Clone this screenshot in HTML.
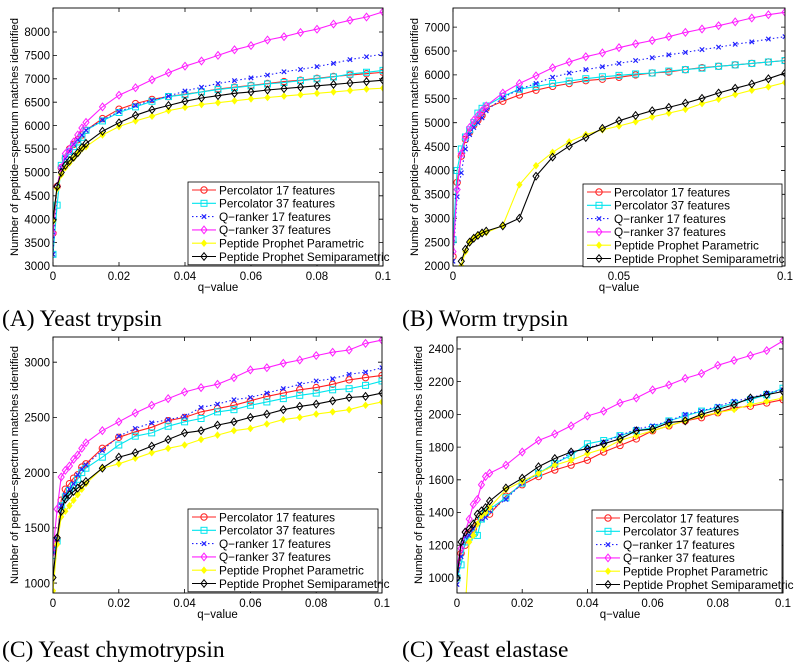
<!DOCTYPE html>
<html><head><meta charset="utf-8">
<style>
html,body{margin:0;padding:0;background:#fff;}
svg{display:block;font-family:"Liberation Sans",sans-serif;}
.cap{font-family:"Liberation Serif",serif;font-size:23.5px;fill:#000;}
</style></head>
<body>
<svg id="fig" width="800" height="663" viewBox="0 0 800 663" xmlns="http://www.w3.org/2000/svg"></svg>
<script>
const qs = [0,0.00125,0.0025,0.00375,0.005,0.00625,0.0075,0.00875,0.01,0.015,0.02,0.025,0.03,0.035,0.04,0.045,0.05,0.055,0.06,0.065,0.07,0.075,0.08,0.085,0.09,0.095,0.1];
const seriesNames = ["Percolator 17 features","Percolator 37 features","Q\u2212ranker 17 features","Q\u2212ranker 37 features","Peptide Prophet Parametric","Peptide Prophet Semiparametric"];

const aPerc17 = [3700,4700,5100,5300,5500,5600,5700,5800,5900,6150,6350,6470,6560,6620,6670,6720,6780,6820,6860,6900,6940,6970,7010,7050,7080,7110,7140];
const aPerc37 = [3250,4300,5150,5300,5450,5550,5650,5750,5900,6100,6280,6400,6520,6620,6660,6720,6770,6810,6850,6890,6920,6960,7000,7040,7100,7140,7180];
const aQ17 = [3250,4700,5100,5300,5450,5600,5700,5800,5900,6120,6300,6430,6540,6630,6740,6820,6900,6960,7020,7080,7150,7200,7260,7330,7410,7470,7530];
const aQ37 = [3700,4700,5100,5400,5500,5650,5800,5950,6070,6400,6650,6810,6980,7130,7270,7380,7500,7620,7710,7830,7900,7990,8060,8170,8250,8320,8430];
const aPPp = [3950,4650,4950,5100,5200,5300,5400,5500,5550,5800,5980,6100,6200,6320,6390,6450,6490,6530,6570,6600,6630,6660,6690,6720,6750,6780,6800];
const aPPs = [3980,4700,5000,5150,5250,5330,5420,5530,5620,5880,6060,6220,6340,6430,6520,6590,6640,6690,6720,6760,6790,6820,6850,6880,6910,6940,6970];

const bPerc17 = [2200,3750,4300,4650,4800,4950,5050,5150,5300,5450,5580,5680,5760,5820,5880,5910,5950,6000,6040,6060,6110,6150,6180,6210,6240,6270,6300];
const bPerc37 = [2550,4000,4450,4700,4850,5000,5200,5300,5350,5550,5700,5760,5820,5870,5920,5960,5990,6020,6040,6080,6110,6140,6180,6210,6240,6270,6300];
const bQ17 = [2100,3450,3950,4450,4750,4900,5000,5100,5250,5520,5700,5820,5950,6040,6110,6170,6240,6300,6360,6420,6470,6530,6580,6640,6690,6750,6800];
const bQ37 = [2300,3600,4350,4700,4900,5050,5150,5250,5350,5620,5820,5980,6150,6270,6380,6460,6570,6650,6720,6800,6890,6960,7030,7110,7190,7260,7310];
const bPPp = [null,null,2000,2300,2500,2580,2650,2680,2700,2850,3700,4100,4380,4600,4750,4850,4930,5020,5120,5200,5280,5400,5490,5590,5680,5750,5840];
const bPPs = [null,null,2100,2350,2500,2580,2640,2690,2730,2840,3000,3880,4280,4510,4690,4880,5040,5150,5250,5320,5410,5510,5620,5720,5810,5920,6040];

const cPerc17 = [1300,1400,1750,1850,1900,1950,1980,2050,2080,2220,2320,2370,2410,2470,2500,2550,2580,2610,2650,2690,2720,2750,2770,2800,2840,2860,2880];
const cPerc37 = [1250,1380,1700,1780,1840,1880,1940,2000,2040,2140,2250,2330,2360,2420,2460,2490,2550,2570,2610,2640,2670,2700,2720,2750,2760,2790,2830];
const cQ17 = [1280,1400,1700,1800,1850,1900,1980,2030,2070,2200,2330,2400,2450,2480,2510,2590,2620,2660,2680,2720,2760,2800,2830,2850,2890,2910,2950];
const cQ37 = [1280,1670,1960,2020,2060,2120,2160,2220,2270,2380,2460,2540,2610,2670,2730,2770,2800,2860,2930,2950,2990,3020,3060,3090,3110,3170,3200];
const cPPp = [930,1350,1600,1650,1700,1750,1800,1850,1900,2040,2080,2130,2180,2220,2250,2300,2340,2380,2400,2440,2480,2500,2530,2550,2570,2610,2640];
const cPPs = [1050,1410,1650,1760,1800,1830,1860,1890,1920,2040,2140,2180,2240,2300,2360,2380,2430,2460,2500,2530,2570,2600,2620,2650,2680,2690,2720];

const dPerc17 = [1000,1150,1200,1270,1300,1340,1370,1390,1390,1500,1570,1620,1660,1690,1720,1770,1810,1850,1900,1930,1960,1980,2010,2040,2050,2070,2090];
const dPerc37 = [1000,1080,1220,1250,1270,1260,1360,1400,1420,1490,1580,1640,1700,1750,1820,1840,1870,1900,1920,1960,1990,2020,2040,2070,2090,2120,2160];
const dQ17 = [960,1130,1250,1260,1300,1330,1360,1370,1410,1480,1580,1640,1690,1770,1790,1830,1870,1910,1930,1960,2000,2020,2050,2080,2100,2130,2150];
const dQ37 = [1080,1180,1280,1360,1450,1480,1570,1620,1640,1690,1770,1840,1880,1930,1990,2020,2070,2100,2150,2180,2220,2250,2300,2330,2360,2390,2450];
const dPPp = [null,null,800,1220,1260,1330,1380,1400,1430,1540,1590,1640,1690,1720,1760,1790,1840,1870,1900,1930,1960,1990,2010,2030,2060,2080,2100];
const dPPs = [1000,1220,1280,1300,1330,1390,1410,1430,1470,1550,1610,1680,1730,1770,1790,1820,1850,1900,1910,1950,1960,2000,2030,2060,2100,2120,2140];

const aYTicks = [3000,3500,4000,4500,5000,5500,6000,6500,7000,7500,8000];
const bYTicks = [2000,2500,3000,3500,4000,4500,5000,5500,6000,6500,7000];
const cYTicks = [1000,1500,2000,2500,3000];
const dYTicks = [1000,1200,1400,1600,1800,2000,2200,2400];
const xTicks5 = [0,0.02,0.04,0.06,0.08,0.1];
const xTicks5Labels = ["0","0.02","0.04","0.06","0.08","0.1"];
const xTicks2 = [0,0.05,0.1];
const xTicks2Labels = ["0","0.05","0.1"];

const NS = "http://www.w3.org/2000/svg";
const fig = document.getElementById("fig");
const colors = ["#ff2020","#00e5ee","#2020ff","#ff20ff","#ffff00","#000000"];
const markers = ["circle","square","x","diamond","star","diamond"];
const dashes = [null,null,"1.5,2.5",null,null,null];
function mk(tag, attrs, parent){const e=document.createElementNS(NS,tag);for(const k in attrs)e.setAttribute(k,attrs[k]);(parent||fig).appendChild(e);return e;}

function marker(g, type, x, y, col){
  let m;
  if(type==="circle"){m=mk("circle",{cx:x,cy:y,r:3.2,fill:"none",stroke:col,"stroke-width":1},g);}
  else if(type==="square"){m=mk("rect",{x:x-3,y:y-3,width:6,height:6,fill:"none",stroke:col,"stroke-width":1},g);}
  else if(type==="x"){m=mk("path",{d:`M${x-2.2},${y-2.2}L${x+2.2},${y+2.2}M${x-2.2},${y+2.2}L${x+2.2},${y-2.2}`,stroke:col,"stroke-width":1.2},g);}
  else if(type==="diamond"){m=mk("path",{d:`M${x},${y-3.8}L${x+3},${y}L${x},${y+3.8}L${x-3},${y}Z`,fill:"none",stroke:col,"stroke-width":1},g);}
  else {m=mk("path",{d:`M${x},${y-3}L${x+2.5},${y}L${x},${y+3}L${x-2.5},${y}Z`,fill:col,stroke:col,"stroke-width":1},g);}
  
  
}

function panel(p){
  const {id,L,R,T,B,ymin,ymax,yticks,xt,xtl,series,caption,capY,legX,legY,legW} = p;
  const g = mk("g",{});
  
  
  const sx = q => L + (q-0)/(0.1-0)*(R-L);
  const sy = v => B - (v-ymin)/(ymax-ymin)*(B-T);
  const clipId = id+"-clip";
  const defs = mk("defs",{},g);
  const cp = mk("clipPath",{id:clipId},defs);
  mk("rect",{x:L,y:T,width:R-L,height:B-T},cp);
  const axg = mk("g",{},g);
  
  
  yticks.forEach(v=>{
    const y=sy(v);
    mk("path",{d:`M${L},${y}h4M${R},${y}h-4`,stroke:"#000","stroke-width":0.8},axg);
    const t=mk("text",{x:L-3,y:y+4.2,"text-anchor":"end","font-size":"11.5"},axg);
    t.textContent=String(v);
    
    
  });
  xt.forEach((q,i)=>{
    const x=sx(q);
    mk("path",{d:`M${x},${B}v-4M${x},${T}v4`,stroke:"#000","stroke-width":0.8},axg);
    const t=mk("text",{x:x,y:B+14,"text-anchor":"middle","font-size":"11.5"},axg);
    t.textContent=xtl[i];
    
    
  });
  const xl=mk("text",{x:(L+R)/2,y:B+25,"text-anchor":"middle","font-size":"11.5"},g);
  xl.textContent="q\u2212value";
  
  
  const yl=mk("text",{x:0,y:0,"text-anchor":"middle","font-size":"11.2",transform:`translate(${L-35},${(T+B)/2}) rotate(-90)`},g);
  yl.textContent="Number of peptide\u2212spectrum matches identified";
  
  
  const sg = mk("g",{"clip-path":`url(#${clipId})`},g);
  series.forEach((vals,si)=>{
    const s = mk("g",{},sg);
    
    
    let d=""; let started=false;
    vals.forEach((v,i)=>{ if(v===null){started=false;return;} d+=(started?"L":"M")+sx(qs[i]).toFixed(1)+","+sy(v).toFixed(1); started=true;});
    const pl=mk("path",{d:d,fill:"none",stroke:colors[si],"stroke-width":1.1},s);
    if(dashes[si]) pl.setAttribute("stroke-dasharray",dashes[si]);
    
    
    vals.forEach((v,i)=>{ if(v===null)return; marker(s,markers[si],sx(qs[i]),sy(v),colors[si]); });
  });
  mk("rect",{x:L,y:T,width:R-L,height:B-T,fill:"none",stroke:"#000","stroke-width":0.9},g);
  const lg = mk("g",{},g);
  
  
  const rowH=13.3;
  mk("rect",{x:legX,y:legY,width:legW,height:rowH*6+3,fill:"#fff",stroke:"#000","stroke-width":0.8},lg);
  seriesNames.forEach((n,si)=>{
    const e=mk("g",{},lg);
    
    
    const y=legY+8+si*rowH;
    const ln=mk("path",{d:`M${legX+4},${y}h24`,stroke:colors[si],"stroke-width":1.1},e);
    if(dashes[si]) ln.setAttribute("stroke-dasharray",dashes[si]);
    marker(e,markers[si],legX+16,y,colors[si]);
    const t=mk("text",{x:legX+31,y:y+4.3,"font-size":"11.8"},e);
    t.textContent=n;
  });
  const c=mk("text",{x:p.capX,y:capY,"class":"cap"},g);
  c.textContent=caption;
  
  
}

panel({id:"yeast-trypsin",L:53,R:383,T:8,B:266,ymin:3000,ymax:8513,yticks:aYTicks,xt:xTicks5,xtl:xTicks5Labels,
  series:[aPerc17,aPerc37,aQ17,aQ37,aPPp,aPPs],caption:"(A) Yeast trypsin",capX:2,capY:326,legX:188,legY:182,legW:191});
panel({id:"worm-trypsin",L:453,R:785,T:8,B:266,ymin:2000,ymax:7400,yticks:bYTicks,xt:xTicks2,xtl:xTicks2Labels,
  series:[bPerc17,bPerc37,bQ17,bQ37,bPPp,bPPs],caption:"(B) Worm trypsin",capX:402,capY:326,legX:583,legY:184,legW:199});
panel({id:"yeast-chymotrypsin",L:53,R:382,T:337,B:593,ymin:910,ymax:3228,yticks:cYTicks,xt:xTicks5,xtl:xTicks5Labels,
  series:[cPerc17,cPerc37,cQ17,cQ37,cPPp,cPPs],caption:"(C) Yeast chymotrypsin",capX:2,capY:657,legX:188,legY:509,legW:190});
panel({id:"yeast-elastase",L:457,R:783,T:337,B:593,ymin:908,ymax:2473,yticks:dYTicks,xt:xTicks5,xtl:xTicks5Labels,
  series:[dPerc17,dPerc37,dQ17,dQ37,dPPp,dPPs],caption:"(C) Yeast elastase",capX:402,capY:657,legX:592,legY:510,legW:190});
</script>
</body></html>
